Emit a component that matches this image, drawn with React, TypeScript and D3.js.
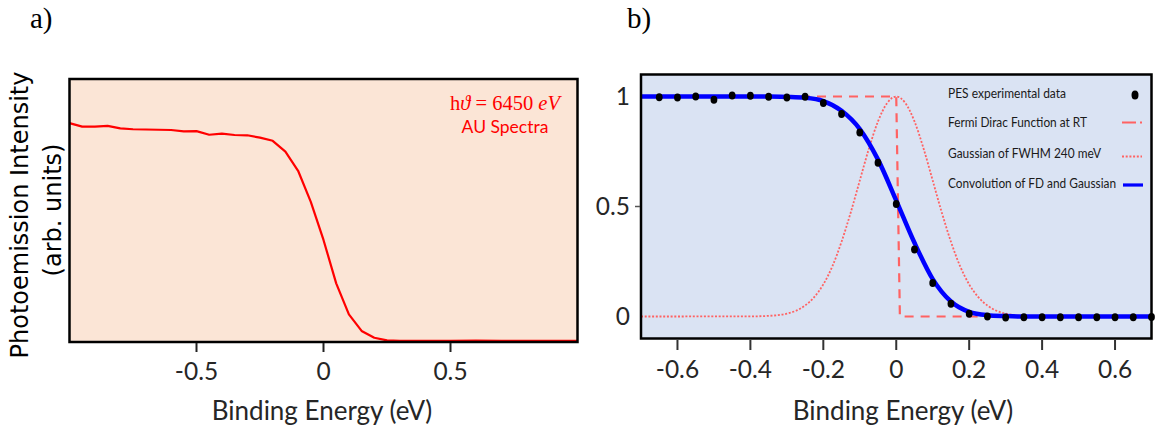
import React from 'react';
import * as d3 from 'd3';

// Panel a: Au spectrum near the Fermi edge
const aEnergy = [
  -1.0, -0.95, -0.9, -0.85, -0.8, -0.75, -0.7, -0.65, -0.6, -0.55, -0.5, -0.45,
  -0.4, -0.35, -0.3, -0.25, -0.2, -0.15, -0.1, -0.05, 0.0, 0.05, 0.1, 0.15, 0.2,
  0.25, 0.3, 0.4, 0.5, 0.6, 0.7, 0.8, 0.9, 1.0,
];
const aIntensity = [
  0.832, 0.819, 0.819, 0.822, 0.812, 0.809, 0.808, 0.807, 0.806, 0.801, 0.802, 0.788,
  0.792, 0.787, 0.786, 0.777, 0.765, 0.724, 0.651, 0.533, 0.388, 0.223, 0.105, 0.042, 0.016,
  0.006, 0.004, 0.004, 0.004, 0.005, 0.004, 0.004, 0.004, 0.004,
];
const aTicks = [-0.5, 0, 0.5];
const aTickLabels = ['-0.5', '0', '0.5'];

// Panel b: measured edge, Fermi-Dirac step, Gaussian and their convolution
const bEnergy = [
  -0.65, -0.6, -0.55, -0.5, -0.45, -0.4, -0.35, -0.3, -0.25, -0.2, -0.15, -0.1, -0.05,
  0.0, 0.05, 0.1, 0.15, 0.2, 0.25, 0.3, 0.35, 0.4, 0.45, 0.5, 0.55, 0.6, 0.65, 0.7,
];
const bMeasured = [
  0.997, 0.995, 1.0, 0.985, 1.005, 1.003, 0.999, 0.995, 0.999, 0.971, 0.921, 0.836, 0.699,
  0.511, 0.304, 0.152, 0.058, 0.012, 0.0, -0.005, -0.003, -0.003, -0.003, -0.003, -0.003,
  -0.003, -0.003, -0.002,
];

const fitEnergy = [
  -0.7, -0.65, -0.6, -0.55, -0.5, -0.45, -0.4, -0.35, -0.3, -0.25, -0.2, -0.15, -0.1,
  -0.05, 0.0, 0.05, 0.1, 0.15, 0.2, 0.25, 0.3, 0.35, 0.4, 0.45, 0.5, 0.55, 0.6, 0.65, 0.7,
];
const fitValues = [
  1.0, 1.0, 1.0, 1.0, 1.0, 1.0, 1.0, 1.0, 0.998, 0.994, 0.979, 0.935, 0.852,
  0.713, 0.527, 0.335, 0.17, 0.068, 0.021, 0.006, 0.002, 0.0, 0.0, 0.0, 0.0, 0.0, 0.0, 0.0, 0.0,
];

const gaussEnergy = [
  -0.7, -0.4, -0.35, -0.325, -0.3, -0.275, -0.25, -0.225, -0.2, -0.175, -0.15, -0.125,
  -0.1, -0.075, -0.05, -0.025, 0.0, 0.025, 0.05, 0.075, 0.1, 0.125, 0.15, 0.175, 0.2,
  0.225, 0.25, 0.275, 0.3, 0.325, 0.35, 0.4, 0.7,
];
const gaussValues = [
  0.0, 0.0005, 0.003, 0.006, 0.013, 0.026, 0.05, 0.088, 0.146, 0.229, 0.34, 0.472,
  0.618, 0.763, 0.887, 0.97, 1.0, 0.97, 0.887, 0.763, 0.618, 0.472, 0.34, 0.229, 0.146,
  0.088, 0.05, 0.026, 0.013, 0.006, 0.003, 0.0005, 0.0,
];

const fermiEnergy = [-0.7, 0.0, 0.01, 0.7];
const fermiValues = [1, 1, 0, 0];

const bTicks = [-0.6, -0.4, -0.2, 0, 0.2, 0.4, 0.6];
const bTickLabels = ['-0.6', '-0.4', '-0.2', '0', '0.2', '0.4', '0.6'];
const bYTicks = [0, 0.5, 1];
const bYTickLabels = ['0', '0.5', '1'];

const legendLabels = [
  'PES experimental data',
  'Fermi Dirac Function at RT',
  'Gaussian of FWHM 240 meV',
  'Convolution of FD and Gaussian',
];
const legendWidths = [118, 139, 153, 168];

const SANS = 'Lato, "Open Sans", sans-serif';
const SERIF = '"Liberation Serif", "Times New Roman", serif';
const TEXT = '#262626';
const SALMON = '#ff6262';

export default function App() {
  // Panel a scales
  const xA = d3.scaleLinear().domain([-1, 1]).range([69.5, 577.5]);
  const yA = d3.scaleLinear().domain([0, 1]).range([342, 79]);
  const lineA = d3
    .line<number>()
    .x((_, i) => xA(aEnergy[i]))
    .y((d) => yA(d));
  const pathA = lineA(aIntensity) || '';

  // Panel b scales
  const xB = d3.scaleLinear().domain([-0.7, 0.7]).range([641, 1151.5]);
  const yB = d3.scaleLinear().domain([-0.1, 1.1]).range([338.5, 74.5]);

  const smooth = (xs: number[], ys: number[]) =>
    d3
      .line<number>()
      .x((_, i) => xB(xs[i]))
      .y((d) => yB(d))
      .curve(d3.curveMonotoneX)(ys) || '';
  const fitPath = smooth(fitEnergy, fitValues);
  const gaussPath = smooth(gaussEnergy, gaussValues);
  const fermiPath =
    d3
      .line<number>()
      .x((_, i) => xB(fermiEnergy[i]))
      .y((d) => yB(d))(fermiValues) || '';

  const legendY = [98, 126.5, 157.5, 188];

  return (
    <svg
      width={1156}
      height={430}
      style={{ position: 'absolute', left: 0, top: 0, background: '#fff' }}
    >
      {/* ---------- panel a ---------- */}
      <text x={30} y={28} fontFamily={SERIF} fontSize={29} fill="#000">
        a)
      </text>
      <rect x={69.5} y={79} width={508} height={263} fill="#fbe5d6" />
      <path d={pathA} fill="none" stroke="#ff0000" strokeWidth={2.2} strokeLinejoin="round" />
      <rect x={69.5} y={79} width={508} height={263} fill="none" stroke="#000" strokeWidth={2.5} />
      {aTicks.map((t, i) => (
        <g key={`at${i}`}>
          <line x1={xA(t)} x2={xA(t)} y1={343} y2={352} stroke="#222" strokeWidth={2} />
          <text
            x={xA(t)}
            y={380}
            textAnchor="middle"
            fontFamily={SANS}
            fontSize={24.5}
            fill={TEXT}
          >
            {aTickLabels[i]}
          </text>
        </g>
      ))}
      <text x={322} y={420} textAnchor="middle" fontFamily={SANS} fontSize={26} fill={TEXT}>
        Binding Energy (eV)
      </text>
      <text
        transform="translate(28,215) rotate(-90)"
        textAnchor="middle"
        fontFamily='"DejaVu Sans", Verdana, sans-serif'
        fontSize={24}
        fill="#000"
      >
        Photoemission Intensity
      </text>
      <text
        transform="translate(61,210) rotate(-90)"
        textAnchor="middle"
        fontFamily='"DejaVu Sans", Verdana, sans-serif'
        fontSize={24}
        fill="#000"
      >
        (arb. units)
      </text>
      <text x={505} y={110} textAnchor="middle" fontFamily={SERIF} fontSize={20.5} fill="#ff0000">
        <tspan>h</tspan>
        <tspan fontStyle="italic">ϑ</tspan>
        <tspan> = 6450 </tspan>
        <tspan fontStyle="italic">eV</tspan>
      </text>
      <text x={505} y={133} textAnchor="middle" fontFamily={SANS} fontSize={17.5} fill="#ff0000">
        AU Spectra
      </text>

      {/* ---------- panel b ---------- */}
      <text x={627} y={28} fontFamily={SERIF} fontSize={29} fill="#000">
        b)
      </text>
      <rect x={641} y={74.5} width={510.5} height={264} fill="#dae3f3" />
      <path d={gaussPath} fill="none" stroke={SALMON} strokeWidth={1.8} strokeDasharray="2 1.7" />
      <path d={fermiPath} fill="none" stroke={SALMON} strokeWidth={2.2} strokeDasharray="9 7" />
      <path d={fitPath} fill="none" stroke="#0000ff" strokeWidth={4.5} strokeLinejoin="round" />
      {bEnergy.map((e, i) => (
        <ellipse key={`d${i}`} cx={xB(e)} cy={yB(bMeasured[i])} rx={3.4} ry={4} fill="#000" />
      ))}
      <rect x={641} y={74.5} width={510.5} height={264} fill="none" stroke="#000" strokeWidth={2.5} />
      {bTicks.map((t, i) => (
        <g key={`bt${i}`}>
          <line x1={xB(t)} x2={xB(t)} y1={340} y2={350} stroke="#333" strokeWidth={2} />
          <text
            x={xB(t)}
            y={378}
            textAnchor="middle"
            fontFamily={SANS}
            fontSize={24.5}
            fill={TEXT}
          >
            {bTickLabels[i]}
          </text>
        </g>
      ))}
      {bYTicks.map((t, i) => (
        <text
          key={`by${i}`}
          x={630}
          y={yB(t) + 8.5}
          textAnchor="end"
          fontFamily={SANS}
          fontSize={24.5}
          fill={TEXT}
        >
          {bYTickLabels[i]}
        </text>
      ))}
      <line x1={635} x2={640} y1={yB(0.5)} y2={yB(0.5)} stroke="#555" strokeWidth={1.5} />
      <text x={903} y={420} textAnchor="middle" fontFamily={SANS} fontSize={26} fill={TEXT}>
        Binding Energy (eV)
      </text>

      {/* legend */}
      {legendLabels.map((l, i) => (
        <text
          key={`lg${i}`}
          x={948}
          y={legendY[i]}
          fontFamily={SANS}
          fontSize={12.5}
          fill="#1a1a1a"
          textLength={legendWidths[i]}
          lengthAdjust="spacingAndGlyphs"
        >
          {l}
        </text>
      ))}
      <ellipse cx={1135} cy={95} rx={3.5} ry={4.5} fill="#000" />
      <line x1={1122} x2={1142} y1={122.5} y2={122.5} stroke={SALMON} strokeWidth={2.2} strokeDasharray="14 4" />
      <line x1={1122} x2={1142} y1={156.5} y2={156.5} stroke={SALMON} strokeWidth={1.8} strokeDasharray="2 1.7" />
      <line x1={1123} x2={1143} y1={185} y2={185} stroke="#0000ff" strokeWidth={3.2} />
    </svg>
  );
}
